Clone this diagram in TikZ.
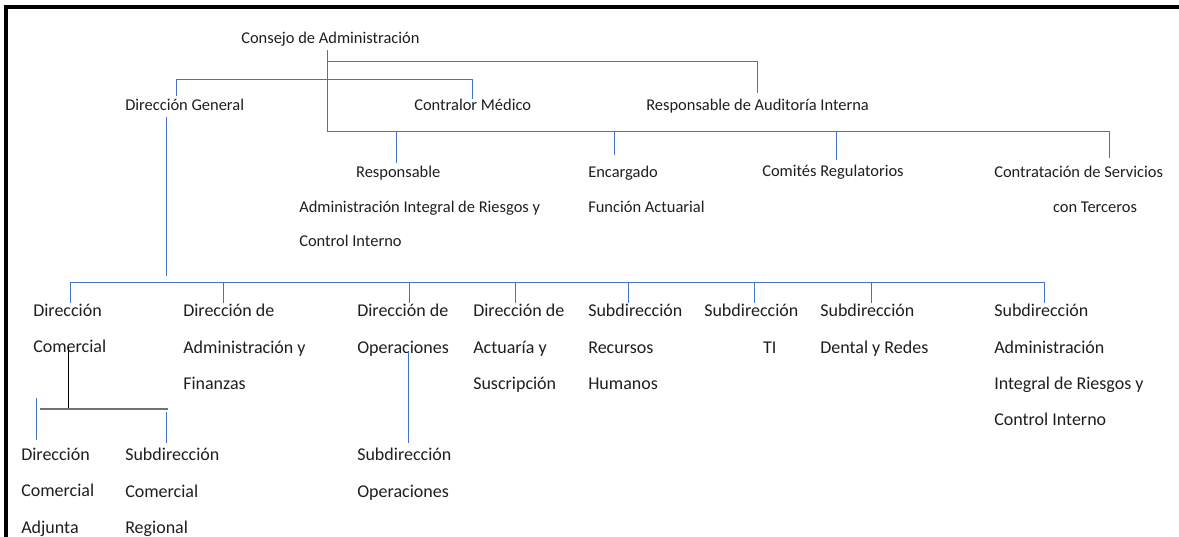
\documentclass[tikz,border=0pt]{standalone}
\usepackage{fontspec}
\setmainfont{Carlito}
\definecolor{orgblue}{RGB}{68,114,196}
\definecolor{orgtext}{RGB}{30,30,30}

\begin{document}
\begin{tikzpicture}[x=0.025cm, y=-0.025cm,
    puesto/.style={anchor=north west, inner sep=0pt, align=left, text=orgtext,
                   execute at begin node={\rule{0pt}{12pt}},
                   font=\fontsize{12.8pt}{25.8pt}\selectfont},
    alto/.style={puesto, font=\fontsize{11.7pt}{24.5pt}\selectfont},
    liga/.style={draw=orgblue, line width=0.6pt},
    liganeg/.style={draw=black, line width=0.7pt}]
\useasboundingbox (0,0) rectangle (1179,537);
\draw[line width=2.2pt] (1179,7) -- (6,7) -- (6,537);

% consejo y staff
\node[alto] (consejo) at (241,26) {Consejo de Administración};
\node[alto] (dirgen) at (125,93) {Dirección General};
\node[alto] (contralor) at (414,93) {Contralor Médico};
\node[alto] (auditoria) at (646,93) {Responsable de Auditoría Interna};
\node[alto] (respriesgos) at (299,166) {\hspace*{1.42cm}Responsable\\Administración Integral de Riesgos y\\Control Interno};
\node[alto] (actuarial) at (588,166) {Encargado\\Función Actuarial};
\node[alto] (comites) at (762,159) {Comités Regulatorios};
\node[alto] (terceros) at (994,166) {Contratación de Servicios\\\hspace*{1.47cm}con Terceros};

% direcciones
\node[puesto] (dircom) at (33,304) {Dirección\\Comercial};
\node[puesto] (diradmin) at (183,304) {Dirección de\\Administración y\\Finanzas};
\node[puesto] (dirops) at (357,304) {Dirección de\\Operaciones};
\node[puesto] (diractuaria) at (473,304) {Dirección de\\Actuaría y\\Suscripción};
\node[puesto] (subrh) at (588,304) {Subdirección\\Recursos\\Humanos};
\node[puesto] (subti) at (704,304) {Subdirección\\\hspace*{1.47cm}TI};
\node[puesto] (subdental) at (820,304) {Subdirección\\Dental y Redes};
\node[puesto] (subriesgos) at (994,304) {Subdirección\\Administración\\Integral de Riesgos y\\Control Interno};
\node[puesto] (dircomadj) at (21,448) {Dirección\\Comercial\\Adjunta};
\node[puesto] (subcomreg) at (125,448) {Subdirección\\Comercial\\Regional};
\node[puesto] (subops) at (357,448) {Subdirección\\Operaciones};

% buses
\coordinate (busmid) at (327,131);
\coordinate (bustop) at (327,61);
\coordinate (busdg) at (176,79);
\coordinate (buslow) at (70,282);
\coordinate (buscom) at (68,409);

\draw[liga] ([yshift=-0.1cm]consejo.south -| busmid) -- (busmid) -| ([yshift=0.2cm]terceros.north -| 1109,0);
\draw[liga] (bustop) -| (auditoria.north -| 757,0);
\draw[liga] ([yshift=-0.07cm]dirgen.north -| busdg) -- (busdg) -| ([yshift=-0.15cm]contralor.north -| 472,0);
\foreach \x/\n/\s in {396/respriesgos/0.075, 614/actuarial/0.275, 836/comites/-0.025}
  \draw[liga] (\x,131) -- ([yshift=\s cm]\n.north -| \x,0);

\draw[liga] ([yshift=-0.15cm]dirgen.south -| 166,0) -- (166,276);
\draw[liga] ([yshift=0.025cm]dircom.north -| buslow) -- (buslow) -- (1044,282) -- ([yshift=0.025cm]subriesgos.north -| 1044,0);
\foreach \x/\n in {223/diradmin, 409/dirops, 515/diractuaria, 628/subrh, 754/subti, 871/subdental}
  \draw[liga] (\x,282) -- ([yshift=0.025cm]\n.north -| \x,0);

% rama comercial
\draw[liganeg] ([yshift=0.15cm]dircom.south -| buscom) -- (buscom);
\draw[draw=black!55, line width=0.9pt] (40,409) -- (168,409);
\draw[liga] (36,398) -- ([yshift=0.2cm]dircomadj.north -| 36,0);
\draw[liga] (166,412) -- ([yshift=0.125cm]subcomreg.north -| 166,0);
\draw[liga] ([yshift=0.1cm]dirops.south -| 408,0) -- ([yshift=0.125cm]subops.north -| 408,0);
\end{tikzpicture}
\end{document}
